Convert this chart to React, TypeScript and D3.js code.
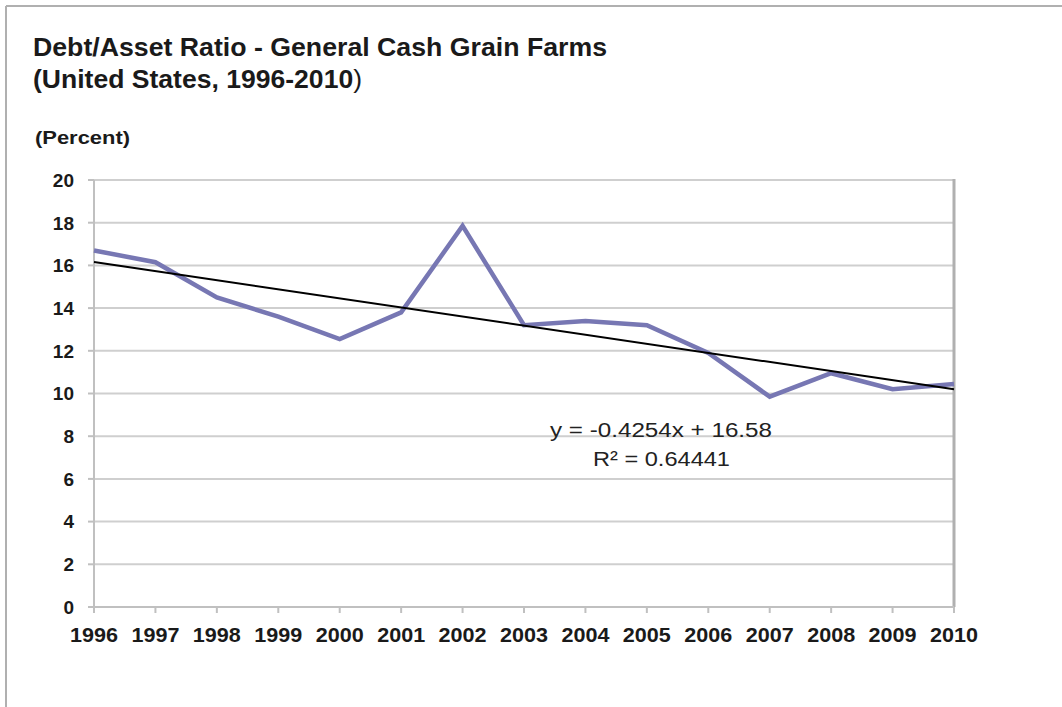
import React from "react";
import * as d3 from "d3";

const years = [1996, 1997, 1998, 1999, 2000, 2001, 2002, 2003, 2004, 2005, 2006, 2007, 2008, 2009, 2010];
const debtAssetRatio = [16.7, 16.15, 14.5, 13.6, 12.55, 13.8, 17.85, 13.2, 13.4, 13.2, 11.9, 9.85, 10.95, 10.2, 10.45];
const yTicks = [0, 2, 4, 6, 8, 10, 12, 14, 16, 18, 20];
const trendSlope = -0.4254;
const trendIntercept = 16.58;
const equationLines = ["y = -0.4254x + 16.58", "R² = 0.64441"];

const W = 1062;
const H = 707;
const M = { left: 94, right: 954, top: 180, bottom: 607 };
const FONT = "'Liberation Sans', Arial, Helvetica, sans-serif";

export default function App() {
  const x = d3.scaleLinear().domain([years[0], years[years.length - 1]]).range([M.left, M.right]);
  const y = d3.scaleLinear().domain([0, 20]).range([M.bottom, M.top]);

  const dataLine = d3
    .line<number>()
    .x((_, i) => x(years[i]))
    .y((d) => y(d))(debtAssetRatio) as string;

  const trendPts = [1, years.length].map((k) => ({ yr: years[k - 1], v: trendSlope * k + trendIntercept }));
  const trendLine = d3
    .line<{ yr: number; v: number }>()
    .x((d) => x(d.yr))
    .y((d) => y(d.v))(trendPts) as string;

  return (
    <svg
      width={W}
      height={H}
      style={{ position: "absolute", left: 0, top: 0, background: "#fff" }}
      fontFamily={FONT}
    >
      <rect x={0} y={0} width={W} height={H} fill="#fff" />
      {/* outer frame */}
      <line x1={6} y1={6} x2={W} y2={6} stroke="#b0b0b0" strokeWidth={2} />
      <line x1={6} y1={6} x2={6} y2={H} stroke="#b0b0b0" strokeWidth={2} />

      {/* title */}
      <text x={33} y={56} fontSize={25} fontWeight="bold" fill="#1a1a1a" textLength={574} lengthAdjust="spacingAndGlyphs">
        Debt/Asset Ratio - General Cash Grain Farms
      </text>
      <text x={33} y={88} fontSize={25} fill="#1a1a1a" textLength={329} lengthAdjust="spacingAndGlyphs">
        <tspan fontWeight="bold">(United States, 1996-2010</tspan>
        <tspan>)</tspan>
      </text>
      <text x={35} y={144} fontSize={19} fontWeight="bold" fill="#1a1a1a" textLength={95} lengthAdjust="spacingAndGlyphs">
        (Percent)
      </text>

      {/* gridlines */}
      {yTicks.map((t) => (
        <g key={t}>
          <line x1={M.left} x2={M.right} y1={y(t)} y2={y(t)} stroke="#cfcfcf" strokeWidth={2} />
          <line x1={M.left - 6} x2={M.left} y1={y(t)} y2={y(t)} stroke="#c0c0c0" strokeWidth={2} />
          <text x={74} y={y(t)} dy="0.36em" textAnchor="end" fontSize={19} fontWeight="bold" fill="#1a1a1a">
            {t}
          </text>
        </g>
      ))}

      {/* axes */}
      <line x1={M.left} x2={M.left} y1={M.top} y2={M.bottom} stroke="#c0c0c0" strokeWidth={2} />
      <line x1={M.right} x2={M.right} y1={M.top - 1} y2={M.bottom} stroke="#b0b0b0" strokeWidth={3} />
      <line x1={M.left} x2={M.right} y1={M.bottom} y2={M.bottom} stroke="#c0c0c0" strokeWidth={2} />
      {years.map((yr) => (
        <g key={yr}>
          <line x1={x(yr)} x2={x(yr)} y1={M.bottom} y2={M.bottom + 6} stroke="#c0c0c0" strokeWidth={2} />
          <text
            x={x(yr) - 24}
            y={642}
            fontSize={19.5}
            fontWeight="bold"
            fill="#1a1a1a"
            textLength={48}
            lengthAdjust="spacingAndGlyphs"
          >
            {yr}
          </text>
        </g>
      ))}

      {/* data */}
      <path d={dataLine} fill="none" stroke="#7777b3" strokeWidth={4.5} strokeLinejoin="miter" />
      <path d={trendLine} fill="none" stroke="#000" strokeWidth={2} />

      {/* equation */}
      <text x={550} y={437} fontSize={20} fill="#222" textLength={222} lengthAdjust="spacingAndGlyphs">
        {equationLines[0]}
      </text>
      <text x={593} y={466} fontSize={20} fill="#222" textLength={137} lengthAdjust="spacingAndGlyphs">
        {equationLines[1]}
      </text>
    </svg>
  );
}
